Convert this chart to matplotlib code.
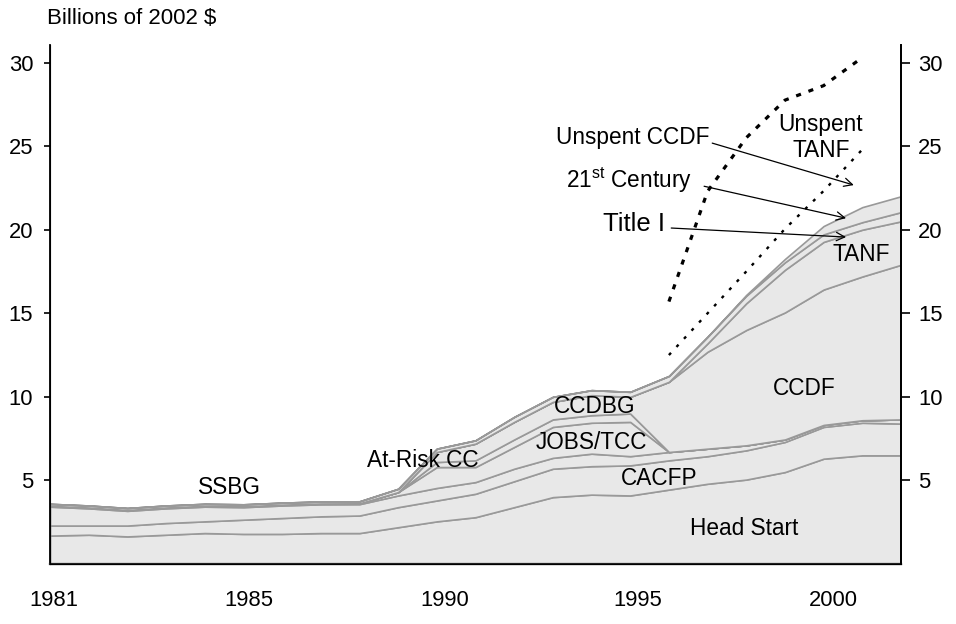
import numpy as np
import matplotlib
matplotlib.use("Agg")
import matplotlib.pyplot as plt

plt.rcParams['font.family'] = ['Liberation Sans', 'DejaVu Sans']
plt.rcParams['mathtext.fontset'] = 'custom'
plt.rcParams['mathtext.rm'] = 'Liberation Sans'

# billions of 2002 dollars, one value per year 1980..2002
years = list(range(1980, 2003))
head_start = [1.70, 1.75, 1.65, 1.75, 1.85, 1.80, 1.80, 1.85, 1.85, 2.20, 2.55, 2.80,
              3.40, 4.00, 4.15, 4.10, 4.45, 4.80, 5.05, 5.50, 6.30, 6.50, 6.50]
cacfp = [0.60, 0.55, 0.65, 0.70, 0.70, 0.85, 0.95, 1.00, 1.05, 1.20, 1.25, 1.40,
         1.55, 1.70, 1.70, 1.80, 1.75, 1.65, 1.75, 1.80, 1.90, 1.95, 1.90]
ssbg = [1.13, 1.03, 0.88, 0.88, 0.88, 0.75, 0.75, 0.72, 0.68, 0.70, 0.75, 0.70,
        0.75, 0.65, 0.75, 0.55, 0.50, 0.45, 0.30, 0.15, 0.12, 0.15, 0.25]
jobs_tcc = [0.05] * 9 + [0.20, 1.25, 0.90, 1.30, 1.85, 1.85, 2.05] + [0] * 7
at_risk = [0] * 10 + [0.30, 0.40, 0.45, 0.45, 0.45, 0.50] + [0] * 7
ccdbg_ccdf = [0] * 10 + [0.60, 1.00, 1.05, 1.05, 1.20, 1.00,
                         4.20, 5.80, 6.90, 7.60, 8.10, 8.60, 9.25]
tanf = [0] * 17 + [0.50, 1.60, 2.55, 2.85, 2.80, 2.60]
title_one = [0.12] * 9 + [0.20, 0.20, 0.20, 0.30, 0.30, 0.30, 0.30,
                          0.35, 0.40, 0.45, 0.45, 0.45, 0.45, 0.55]
century21 = [0] * 18 + [0.05, 0.20, 0.50, 0.90, 0.95]

# unspent balances, 1996..2001
unspent_years = list(range(1996, 2002))
unspent_ccdf = [1.25, 1.40, 1.40, 1.80, 2.10, 3.45]
unspent_tanf = [3.20, 7.30, 8.00, 7.70, 6.30, 5.50]

xtick_pos = [1980.1, 1985.15, 1990.2, 1995.2, 2000.25]
xtick_labels = ['1981', '1985', '1990', '1995', '2000']
yticks = [5, 10, 15, 20, 25, 30]

layers = [head_start, cacfp, ssbg, jobs_tcc, at_risk, ccdbg_ccdf, tanf, title_one, century21]
total = np.sum(np.array(layers), axis=0)
idx = [years.index(y) for y in unspent_years]
ccdf_line = total[idx] + np.array(unspent_ccdf)
tanf_line = ccdf_line + np.array(unspent_tanf)

fig = plt.figure(figsize=(9.56, 6.24), dpi=100)
ax = fig.add_axes([50 / 956, 60 / 624, 851 / 956, 519 / 624])

ax.stackplot(years, *layers, colors=['#e8e8e8'] * len(layers),
             edgecolor='#999999', linewidth=1.2)

ax.plot(unspent_years, ccdf_line, color='black', lw=1.7, dashes=(1.3, 3.4))
ax.plot(unspent_years, tanf_line, color='black', lw=2.3, dashes=(1.6, 2.5))

ax.set_xlim(1980, 2002)
ax.set_ylim(0, 31.05)
ax.set_xticks(xtick_pos)
ax.set_xticklabels(xtick_labels)
ax.set_yticks(yticks)
ax.tick_params(axis='x', length=0, pad=19, labelsize=15.8)
ax.tick_params(axis='y', length=4, width=1.2, pad=8, labelsize=15.8)
ax.spines['top'].set_visible(False)
ax.spines['left'].set_linewidth(1.3)
ax.spines['bottom'].set_linewidth(1.6)
ax.spines['bottom'].set_color('#222222')
ax.spines['right'].set_linewidth(1.3)

ax2 = ax.twinx()
ax2.set_ylim(ax.get_ylim())
ax2.set_yticks(yticks)
ax2.tick_params(axis='y', length=6.5, width=1.2, pad=6, labelsize=15.8)
ax2.spines['top'].set_visible(False)
ax2.spines['right'].set_linewidth(1.3)

fig.text(47 / 956, 1 - 19 / 624, 'Billions of 2002 $', fontsize=16, va='center', ha='left')

fs = 16.3
lab = dict(fontsize=fs, ha='center', va='center')
ax.text(1984.65, 4.55, 'SSBG', **lab)
ax.text(1989.63, 6.2, 'At-Risk CC', **lab)
ax.text(1994.07, 9.4, 'CCDBG', **lab)
ax.text(1993.99, 7.24, 'JOBS/TCC', **lab)
ax.text(1995.75, 5.14, 'CACFP', **lab)
ax.text(1997.95, 2.15, 'Head Start', **lab)
ax.text(1999.5, 10.5, 'CCDF', **lab)
ax.text(2000.97, 18.5, 'TANF', **lab)
ax.text(1999.93, 25.5, 'Unspent\nTANF', fontsize=fs, ha='center', va='center',
        linespacing=1.15)

arrow = dict(arrowstyle='->', color='black', lw=0.9, mutation_scale=15,
             shrinkA=0, shrinkB=0)
ax.annotate('', xy=(2000.78, 22.67), xytext=(1997.12, 25.18), arrowprops=arrow)
ax.annotate('', xy=(2000.58, 20.69), xytext=(1996.91, 22.6), arrowprops=arrow)
ax.annotate('', xy=(2000.58, 19.56), xytext=(1996.06, 20.1), arrowprops=arrow)
ax.text(1997.04, 25.5, 'Unspent CCDF', fontsize=fs, ha='right', va='center')
ax.text(1996.6, 22.97, '21$^{\\mathrm{st}}$ Century', fontsize=fs, ha='right', va='center')
ax.text(1995.9, 20.33, 'Title I', fontsize=18.5, ha='right', va='center')

fig.savefig('out.png', dpi=100)
